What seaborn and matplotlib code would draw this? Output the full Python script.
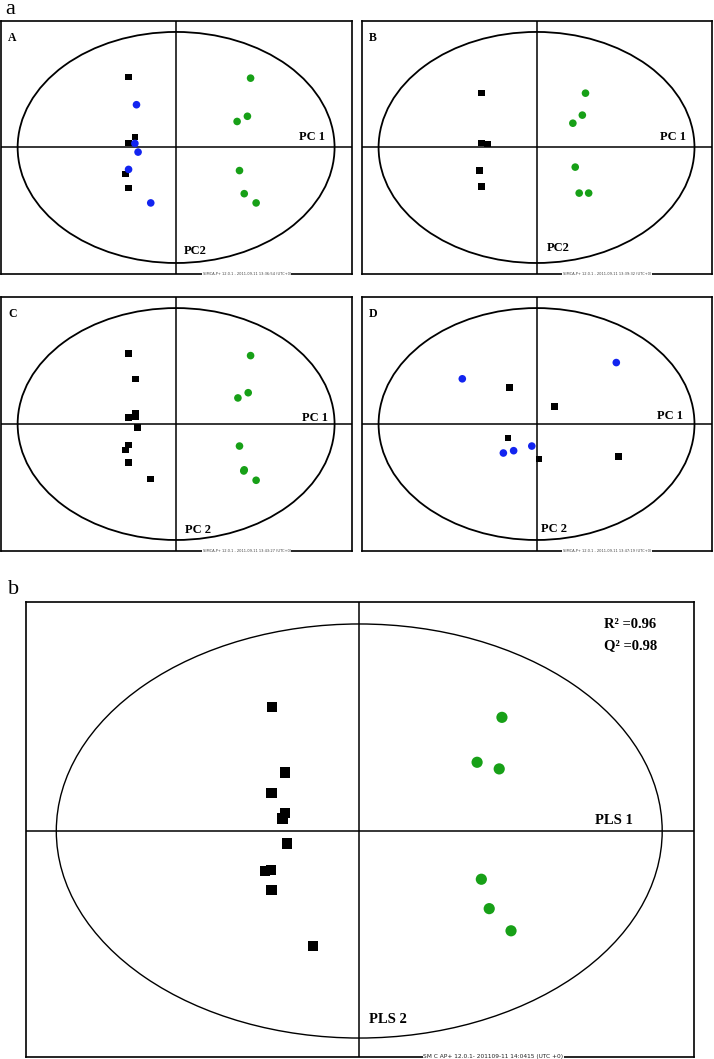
import pandas as pd
import matplotlib
matplotlib.use("Agg")
import matplotlib.pyplot as plt
from matplotlib.patches import Ellipse
import seaborn as sns

# Score values, scaled so the Hotelling T2 ellipse has radius 1 on each axis
# Panel A
A_sq_t1 = [-0.30, -0.26, -0.30, -0.32, -0.30]
A_sq_t2 = [0.61, 0.09, 0.04, -0.23, -0.35]
A_blue_t1 = [-0.25, -0.26, -0.24, -0.30, -0.16]
A_blue_t2 = [0.37, 0.035, -0.04, -0.19, -0.48]
A_green_t1 = [0.47, 0.45, 0.385, 0.40, 0.43, 0.505]
A_green_t2 = [0.60, 0.27, 0.225, -0.20, -0.40, -0.48]

# Panel B
B_sq_t1 = [-0.35, -0.35, -0.31, -0.36, -0.35]
B_sq_t2 = [0.47, 0.04, 0.03, -0.20, -0.34]
B_green_t1 = [0.31, 0.29, 0.23, 0.245, 0.27, 0.33]
B_green_t2 = [0.47, 0.28, 0.21, -0.17, -0.395, -0.395]

# Panel C
C_sq_t1 = [-0.30, -0.255, -0.255, -0.255, -0.30, -0.245, -0.30, -0.32, -0.30, -0.16]
C_sq_t2 = [0.61, 0.39, 0.09, 0.06, 0.055, -0.03, -0.18, -0.225, -0.33, -0.475]
C_green_t1 = [0.47, 0.455, 0.39, 0.40, 0.43, 0.427, 0.505]
C_green_t2 = [0.59, 0.27, 0.225, -0.19, -0.395, -0.405, -0.485]

# Panel D
D_sq_t1 = [-0.17, 0.115, -0.18, 0.017, 0.52]
D_sq_t2 = [0.315, 0.15, -0.12, -0.30, -0.28]
D_blue_t1 = [-0.47, 0.505, -0.21, -0.145, -0.03]
D_blue_t2 = [0.39, 0.53, -0.25, -0.23, -0.19]

# Panel b (PLS)
b_sq_t1 = [-0.287, -0.246, -0.29, -0.246, -0.253, -0.239, -0.312, -0.292, -0.29, -0.153]
b_sq_t2 = [0.598, 0.282, 0.184, 0.086, 0.061, -0.061, -0.192, -0.188, -0.286, -0.556]
b_green_t1 = [0.471, 0.389, 0.462, 0.403, 0.429, 0.501]
b_green_t2 = [0.549, 0.332, 0.300, -0.233, -0.375, -0.482]

R2 = 0.96
Q2 = 0.98

panel_letters = ["A", "B", "C", "D"]
footers = ["SIMCA-P+ 12.0.1 - 2011-09-11 13:36:54 (UTC+0)",
           "SIMCA-P+ 12.0.1 - 2011-09-11 13:39:32 (UTC+0)",
           "SIMCA-P+ 12.0.1 - 2011-09-11 13:43:27 (UTC+0)",
           "SIMCA-P+ 12.0.1 - 2011-09-11 13:47:19 (UTC+0)"]
footer_b = "SM C AP+ 12.0.1- 201109-11 14:0415 (UTC +0)"

palette = {"square": "black", "blue": "#1224f0", "green": "#17a017"}
markers = {"square": "s", "blue": "o", "green": "o"}


def make_frame(parts):
    """Stack (group, t1, t2) lists into one long table"""
    frames = []
    for grp, t1, t2 in parts:
        frames.append(pd.DataFrame({"t1": t1, "t2": t2, "group": grp}))
    return pd.concat(frames, ignore_index=True)


def draw_score_plot(ax, df, sizes, lw_ell):
    ax.add_patch(Ellipse((0, 0), 2, 2, fill=False, edgecolor="black", lw=lw_ell, zorder=1))
    ax.axhline(0, color="black", lw=1.1, zorder=1)
    ax.axvline(0, color="black", lw=1.1, zorder=1)
    sns.scatterplot(data=df, x="t1", y="t2", hue="group", style="group",
                    palette=palette, markers=markers, size="group", sizes=sizes,
                    linewidth=0, legend=False, ax=ax, zorder=3)
    ax.set_xlim(-1.105, 1.11)
    ax.set_ylim(-1.095, 1.095)
    ax.set_xticks([])
    ax.set_yticks([])
    ax.set_xlabel("")
    ax.set_ylabel("")
    for sp in ax.spines.values():
        sp.set_visible(True)
        sp.set_color("black")
        sp.set_linewidth(1.2)


sns.set_style("white")
plt.rcParams["font.family"] = ["Liberation Serif", "DejaVu Serif"]
plt.rcParams["text.color"] = "black"

fig = plt.figure(figsize=(7.14, 10.59), dpi=100)

panel_data = [
    make_frame([("square", A_sq_t1, A_sq_t2), ("blue", A_blue_t1, A_blue_t2),
                ("green", A_green_t1, A_green_t2)]),
    make_frame([("square", B_sq_t1, B_sq_t2), ("green", B_green_t1, B_green_t2)]),
    make_frame([("square", C_sq_t1, C_sq_t2), ("green", C_green_t1, C_green_t2)]),
    make_frame([("square", D_sq_t1, D_sq_t2), ("blue", D_blue_t1, D_blue_t2)]),
]
positions = [
    [0.0014, 0.7413, 0.4916, 0.2389],
    [0.507, 0.7413, 0.490, 0.2389],
    [0.0014, 0.4797, 0.4916, 0.2398],
    [0.507, 0.4797, 0.490, 0.2398],
]
pc1_pos = [(0.94, 0.04), (0.945, 0.04), (0.96, 0.0), (0.93, 0.02)]
pc2_pos = [(0.05, -0.92), (0.067, -0.90), (0.059, -0.94), (0.03, -0.935)]
pc1_txt = ["PC 1", "PC 1", "PC 1", "PC 1"]
pc2_txt = ["PC2", "PC2", "PC 2", "PC 2"]

for i in range(4):
    ax = fig.add_axes(positions[i])
    draw_score_plot(ax, panel_data[i], {"square": 22, "blue": 30, "green": 30}, 1.3)
    ax.text(0.02, 0.955, panel_letters[i], transform=ax.transAxes, ha="left", va="top",
            fontsize=8.5, fontweight="bold")
    ax.text(pc1_pos[i][0], pc1_pos[i][1], pc1_txt[i], ha="right", va="bottom",
            fontsize=9, fontweight="bold")
    ax.text(pc2_pos[i][0], pc2_pos[i][1], pc2_txt[i], ha="left", va="baseline",
            fontsize=9, fontweight="bold")
    ax.text(0.70, 0.0, footers[i], transform=ax.transAxes, ha="center", va="center",
            fontsize=2.6, family="DejaVu Sans", color="#444444",
            bbox=dict(facecolor="white", edgecolor="none", pad=0.3), zorder=5)

# PLS panel
ax_b = fig.add_axes([0.036, 0.0022, 0.936, 0.4297])
df_b = make_frame([("square", b_sq_t1, b_sq_t2), ("green", b_green_t1, b_green_t2)])
draw_score_plot(ax_b, df_b, {"square": 55, "green": 65}, 1.0)
ax_b.set_xlim(-1.101, 1.105)
ax_b.set_ylim(-1.09, 1.108)
ax_b.text(0.902, 0.032, "PLS 1", ha="right", va="baseline", fontsize=10.5, fontweight="bold")
ax_b.text(0.032, -0.929, "PLS 2", ha="left", va="baseline", fontsize=10.5, fontweight="bold")
ax_b.text(0.865, 0.942, f"R\u00b2 ={R2:.2f}", transform=ax_b.transAxes, ha="left",
          va="baseline", fontsize=10.5, fontweight="bold")
ax_b.text(0.865, 0.896, f"Q\u00b2 ={Q2:.2f}", transform=ax_b.transAxes, ha="left",
          va="baseline", fontsize=10.5, fontweight="bold")
ax_b.text(0.70, 0.0, footer_b, transform=ax_b.transAxes, ha="center", va="center",
          fontsize=4.2, family="DejaVu Sans", color="#222222",
          bbox=dict(facecolor="white", edgecolor="none", pad=0.4), zorder=5)

fig.text(0.007, 1.0, "a", ha="left", va="top", fontsize=16)
fig.text(0.011, 0.4345, "b", ha="left", va="bottom", fontsize=16)

fig.savefig("out.png", dpi=100)
